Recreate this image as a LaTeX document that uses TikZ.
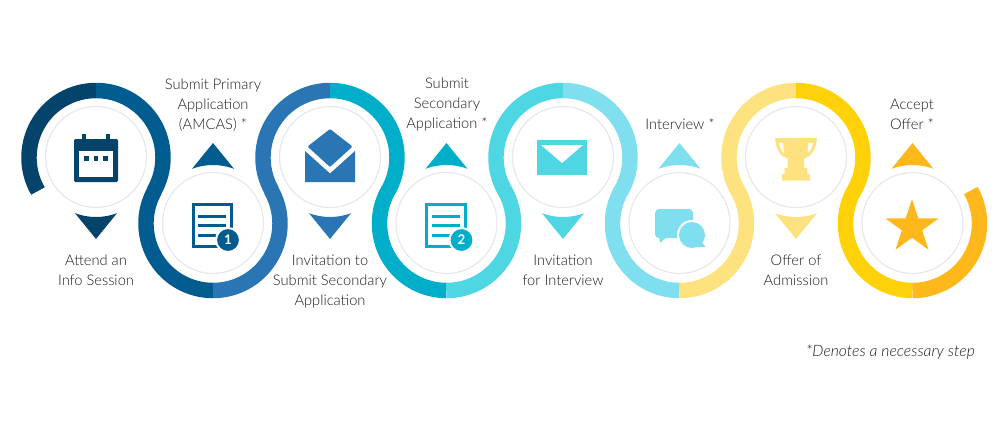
\documentclass[tikz,border=0pt]{standalone}
\usepackage{fontspec}
\setmainfont{Lato}[UprightFont=* Light, ItalicFont=* Light Italic, BoldFont=* Bold]
\usetikzlibrary{positioning, shapes}

\definecolor{navy}{HTML}{04446B}
\definecolor{deepblue}{HTML}{005B8F}
\definecolor{midblue}{HTML}{2A75B3}
\definecolor{teal}{HTML}{00AEC9}
\definecolor{aqua}{HTML}{4ED6E3}
\definecolor{paleaqua}{HTML}{7FDFEE}
\definecolor{paleyellow}{HTML}{FDE27F}
\definecolor{yellow}{HTML}{FFD109}
\definecolor{amber}{HTML}{FFB81C}
\definecolor{ringgray}{HTML}{E8E8EA}
\definecolor{labelgray}{HTML}{1C1C1C}

\tikzset{
	stepcircle/.style={circle, draw=ringgray, line width=0.9pt, fill=white, minimum size=75.75pt, inner sep=0pt},
	ringarc/.style={line width=11.6pt},
	steplabel/.style={text=labelgray, align=center, font=\fontsize{11}{15}\selectfont},
	badge/.style={circle, draw=white, line width=1.5pt, minimum size=18pt, inner sep=0pt, text=white, font=\fontsize{10}{10}\bfseries\selectfont},
}

\begin{document}
\begin{tikzpicture}[x=0.75pt, y=-0.75pt]

\useasboundingbox (0,0) rectangle (1008,432);

\def \xr{67}

% rings, arrows and circles
\foreach \n/\x/\y/\ry/\ty/\sa/\sm/\se/\ta/\ca/\cb/\ci in {
	1/96/157/157.5/157/150/270/390/90/navy/deepblue/navy,
	2/213/223/223.5/225/210/90/-30/270/deepblue/midblue/deepblue,
	3/330/157/157.5/157/150/270/390/90/midblue/teal/midblue,
	4/446.5/223/223.5/225/210/90/-30/270/teal/aqua/teal,
	5/563/157/157.5/157/150/270/390/90/aqua/paleaqua/aqua,
	6/679.5/223/223.5/225/210/90/-30/270/paleaqua/paleyellow/paleaqua,
	7/796/157/157.5/157/150/270/390/90/paleyellow/yellow/paleyellow,
	8/912.5/223/223.5/225/210/90/-29.5/270/yellow/amber/amber} {
	\draw[ringarc, \ca] (\x,\ry) +(\sa:\xr) arc (\sa:\sm:\xr); % first half
	\draw[ringarc, \cb] (\x,\ry) +(\sm:\xr) arc (\sm:\se:\xr); % second half
	\node[stepcircle] (c\n) at (\x,\y) {};
	\fill[\ci] (\x,\ty) +({\ta-20.5}:60) -- +(\ta:82) -- +({\ta+20.5}:60) arc ({\ta+20.5}:{\ta-20.5}:60) -- cycle;
}

% calendar
\fill[navy, rounded corners=1pt] (74,139) rectangle (118,182);
\fill[navy] (82,134) rectangle (86,140);
\fill[navy] (106,134) rectangle (110,140);
\fill[white] (79,151) rectangle (113,177);
\foreach \x in {84, 93.5, 103} {
	\fill[navy] (\x,156) rectangle (\x+4.7,160.5);
}

% documents
\foreach \n/\x/\c/\t in {2/192/deepblue/1, 4/425.5/teal/2} {
	\draw[\c, line width=2pt] (\x+1.3,204.3) rectangle (\x+39.7,246.7);
	\fill[\c] (\x+6,214.5) rectangle (\x+34,218);
	\fill[\c] (\x+6,223.5) rectangle (\x+34,227);
	\fill[\c] (\x+6,233.5) rectangle (\x+26,237);
	\node[badge, fill=\c] (b\n) at (\x+36,240) {\t};
}

% open envelope
\fill[midblue, rounded corners=0.8pt] (330,129) -- (352.5,146.5) -- (330,167) -- (307.5,146.5) -- cycle;
\fill[midblue] (305,151) -- (330,173.5) -- (355,151) -- (355,182) -- (305,182) -- cycle;

% closed envelope
\fill[aqua] (537,140) rectangle (587,174.5);
\fill[white] (541,145) -- (583,145) -- (562,163) -- cycle;

% chat bubbles
\fill[paleaqua, rounded corners=3pt] (655,209) -- (693,209) -- (693,238) -- (655,238) -- cycle;
\fill[paleaqua] (659,236) -- (660,243) -- (668,236) -- cycle;
\fill[white] (692,235) circle (15);
\fill[paleaqua] (692,235) circle (13);
\fill[paleaqua] (700,240) -- (705.5,247) -- (694,247) -- cycle;

% trophy
\fill[paleyellow] (775,138) -- (817,138) -- (816,145) .. controls (814,152) and (810,157) .. (804,158.5) -- (804,168) -- (807,168) -- (807,174) -- (810,174) -- (810,180.5) -- (782,180.5) -- (782,174) -- (784.5,174) -- (784.5,168) -- (787.5,168) -- (787.5,158.5) .. controls (782,157) and (778,152) .. (776,145) -- cycle;
\fill[white] (779,143) -- (783,143) -- (784,153.5) .. controls (782,151) and (780,148) .. cycle;
\fill[white] (813,143) -- (808.5,143) -- (807.5,153.5) .. controls (810,151) and (812,148) .. cycle;

% star
\node[star, star points=5, star point ratio=2.618, fill=amber, minimum size=42pt, inner sep=0pt] (award) at (912,227) {};

% labels
\foreach \n/\x/\y/\t in {
	1/96/270/{Attend an\\Info Session},
	2/213/105/{Submit Primary\\Application\\(AMCAS) *},
	3/330/282/{Invitation to\\Submit Secondary\\Application},
	4/447/104/{Submit\\Secondary\\Application *},
	5/563/270/{Invitation\\for Interview},
	6/680/124/{Interview *},
	7/796/270/{Offer of\\Admission},
	8/912/114.5/{Accept\\Offer *}} {
	\node[steplabel] (l\n) at (\x,\y) {\t};
}

\node[steplabel, font=\fontsize{11.8}{15}\itshape\selectfont] (note) at (890.5,352) {*Denotes a necessary step};

\end{tikzpicture}
\end{document}
